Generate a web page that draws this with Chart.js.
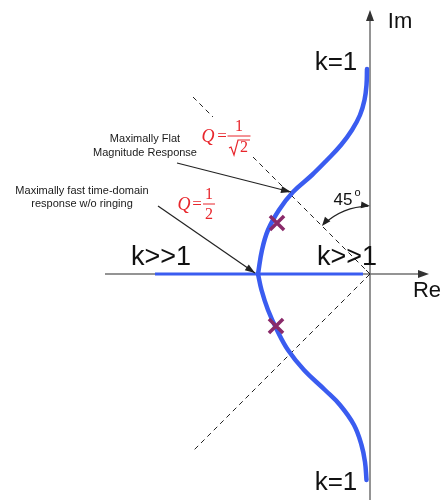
<!DOCTYPE html>
<html><head><meta charset="utf-8">
<script src="https://cdn.jsdelivr.net/npm/chart.js@4/dist/chart.umd.min.js"></script>
<style>html,body{margin:0;padding:0;background:#fff}#wrap{width:444px;height:500px;position:relative}</style>
</head><body><div id="wrap"><canvas id="c"></canvas></div>
<script>
// Root locus (Re, Im)
const upperRe = [-0.03,-0.035,-0.055,-0.10,-0.18,-0.29,-0.43,-0.58,-0.77,-0.91,-1.02,-1.08,-1.12];
const upperIm = [2.05,1.89,1.74,1.59,1.44,1.29,1.14,0.99,0.82,0.64,0.44,0.24,0.00];
const lowerRe = [-1.12,-1.085,-1.02,-0.93,-0.82,-0.66,-0.45,-0.30,-0.16,-0.085,-0.05,-0.035];
const lowerIm = [0.00,-0.16,-0.36,-0.56,-0.76,-0.96,-1.16,-1.31,-1.51,-1.71,-1.88,-2.06];
const realRe = [-2.15,-0.07];
const realIm = [0,0];
const poleRe = [-0.93,-0.94];
const poleIm = [0.51,-0.52];
// 45-degree (Q = 1/sqrt2) guide lines
const guideUpRe1 = [-1.77,-1.57];
const guideUpIm1 = [1.77,1.57];
const guideUpRe2 = [-1.17,0];
const guideUpIm2 = [1.17,0];
const guideLoRe = [0,-1.76];
const guideLoIm = [0,-1.76];

const pts = (xs, ys) => xs.map((v, i) => ({x: v, y: ys[i]}));
const BLUE = '#3a5cf0';
const AXIS = '#707070';

function arrowHead(ctx, x1, y1, x2, y2, len, w, color) {
  const a = Math.atan2(y2 - y1, x2 - x1);
  const c = Math.cos(a), s = Math.sin(a);
  ctx.save();
  ctx.fillStyle = color;
  ctx.beginPath();
  ctx.moveTo(x2, y2);
  ctx.lineTo(x2 - len * c + w * s, y2 - len * s - w * c);
  ctx.lineTo(x2 - len * c - w * s, y2 - len * s + w * c);
  ctx.closePath();
  ctx.fill();
  ctx.restore();
}

const decor = {
  id: 'decor',
  beforeDatasetsDraw(chart) {
    const {ctx, scales: {x, y}} = chart;
    const X = v => x.getPixelForValue(v), Y = v => y.getPixelForValue(v);
    ctx.save();
    ctx.strokeStyle = AXIS; ctx.lineWidth = 1.5;
    // Re axis
    ctx.beginPath(); ctx.moveTo(X(-2.65), Y(0)); ctx.lineTo(X(0.55), Y(0)); ctx.stroke();
    arrowHead(ctx, X(0), Y(0), X(0.59), Y(0), 11, 4, '#333');
    // Im axis
    ctx.beginPath(); ctx.moveTo(X(0), Y(-2.3)); ctx.lineTo(X(0), Y(2.58)); ctx.stroke();
    arrowHead(ctx, X(0), Y(0), X(0), Y(2.64), 11, 4, '#333');
    ctx.restore();
  },
  afterDatasetsDraw(chart) {
    const {ctx, scales: {x, y}} = chart;
    const X = v => x.getPixelForValue(v), Y = v => y.getPixelForValue(v);
    ctx.save();
    // small chevron at origin
    ctx.strokeStyle = '#222'; ctx.lineWidth = 1;
    ctx.beginPath(); ctx.moveTo(X(0) - 4, Y(0) - 4); ctx.lineTo(X(0), Y(0)); ctx.lineTo(X(0) - 4, Y(0) + 4); ctx.stroke();

    // big labels
    ctx.fillStyle = '#111';
    ctx.textBaseline = 'alphabetic';
    ctx.textAlign = 'center';
    ctx.font = '26px "Liberation Sans", Arial, sans-serif';
    ctx.fillText('k=1', X(-0.34), Y(2.04));
    ctx.fillText('k=1', X(-0.34), Y(-2.16));
    ctx.font = '27px "Liberation Sans", Arial, sans-serif';
    ctx.fillText('k>>1', X(-2.09), Y(0.09));
    ctx.fillText('k>>1', X(-0.23), Y(0.09));
    ctx.font = '22px "Liberation Sans", Arial, sans-serif';
    ctx.fillText('Im', X(0.30), Y(2.46));
    ctx.fillText('Re', X(0.57), Y(-0.23));

    // small annotation texts
    ctx.fillStyle = '#1a1a1a';
    ctx.textBaseline = 'middle';
    ctx.font = '11px "Liberation Sans", Arial, sans-serif';
    ctx.fillText('Maximally Flat', X(-2.25), Y(1.35));
    ctx.fillText('Magnitude Response', X(-2.25), Y(1.21));
    ctx.fillText('Maximally fast time-domain', X(-2.88), Y(0.83));
    ctx.fillText('response w/o ringing', X(-2.88), Y(0.70));

    // annotation arrows
    ctx.strokeStyle = '#222'; ctx.lineWidth = 1.2;
    const a1 = [X(-1.93), Y(1.11), X(-0.79), Y(0.82)];
    ctx.beginPath(); ctx.moveTo(a1[0], a1[1]); ctx.lineTo(a1[2], a1[3]); ctx.stroke();
    arrowHead(ctx, a1[0], a1[1], a1[2], a1[3], 10, 3.5, '#222');
    const a2 = [X(-2.12), Y(0.68), X(-1.15), Y(0.01)];
    ctx.beginPath(); ctx.moveTo(a2[0], a2[1]); ctx.lineTo(a2[2], a2[3]); ctx.stroke();
    arrowHead(ctx, a2[0], a2[1], a2[2], a2[3], 10, 3.5, '#222');

    // 45 degree arc
    const ox = X(0), oy = Y(0), r = X(0.68) - X(0);
    ctx.beginPath(); ctx.arc(ox, oy, r, -3 * Math.PI / 4 + 0.05, -Math.PI / 2 - 0.03); ctx.stroke();
    const t1 = -Math.PI / 2;
    arrowHead(ctx, ox + r * Math.cos(t1) - 8, oy + r * Math.sin(t1) - 1, ox + r * Math.cos(t1), oy + r * Math.sin(t1), 9, 3.5, '#222');
    const t2 = -3 * Math.PI / 4;
    arrowHead(ctx, ox + r * Math.cos(t2) + 5, oy + r * Math.sin(t2) - 6, ox + r * Math.cos(t2), oy + r * Math.sin(t2), 9, 3.5, '#222');
    ctx.fillStyle = '#111';
    ctx.font = '17px "Liberation Sans", Arial, sans-serif';
    ctx.textBaseline = 'alphabetic';
    ctx.fillText('45', X(-0.27), Y(0.69));
    ctx.font = '11px "Liberation Sans", Arial, sans-serif';
    ctx.fillText('o', X(-0.125), Y(0.78));

    // Q labels (red, serif)
    const RED = '#e8262c';
    function qLabel(bx, by, barW, eqOff, qOff, radical) {
      ctx.fillStyle = RED; ctx.strokeStyle = RED;
      ctx.textAlign = 'center'; ctx.textBaseline = 'middle';
      ctx.font = 'italic 18px "Liberation Serif", "Times New Roman", serif';
      ctx.fillText('Q', bx + qOff, by + 1);
      ctx.font = '17px "Liberation Serif", "Times New Roman", serif';
      ctx.fillText('=', bx + eqOff, by + 1);
      ctx.lineWidth = 1;
      ctx.beginPath(); ctx.moveTo(bx - barW / 2, by); ctx.lineTo(bx + barW / 2, by); ctx.stroke();
      ctx.font = '16px "Liberation Serif", "Times New Roman", serif';
      ctx.fillText('1', bx, by - 9);
      if (radical) {
        ctx.lineWidth = 1.2;
        ctx.beginPath();
        ctx.moveTo(bx - 10, by + 12); ctx.lineTo(bx - 8, by + 11);
        ctx.lineTo(bx - 5, by + 19); ctx.lineTo(bx - 1, by + 4); ctx.lineTo(bx + 11, by + 4);
        ctx.stroke();
        ctx.fillText('2', bx + 5, by + 12);
      } else {
        ctx.fillText('2', bx, by + 11);
      }
    }
    qLabel(X(-1.31), Y(1.38), 23, -17, -31, true);
    qLabel(X(-1.61), Y(0.70), 12, -12, -25, false);
    ctx.restore();
  }
};

new Chart(document.getElementById('c'), {
  type: 'scatter',
  data: {
    datasets: [
      {data: pts(poleRe, poleIm), pointStyle: 'crossRot', pointRadius: 10, borderWidth: 3.5,
       borderColor: '#8a2a6a', backgroundColor: '#8a2a6a', showLine: false, order: 0},
      {data: pts(upperRe, upperIm), showLine: true, borderColor: BLUE, borderWidth: 4.5, pointRadius: 0,
       tension: 0.4, borderCapStyle: 'round', order: 1},
      {data: pts(lowerRe, lowerIm), showLine: true, borderColor: BLUE, borderWidth: 4.5, pointRadius: 0,
       tension: 0.4, borderCapStyle: 'round', order: 1},
      {data: pts(realRe, realIm), showLine: true, borderColor: BLUE, borderWidth: 3, pointRadius: 0, order: 2},
      {data: pts(guideUpRe1, guideUpIm1), showLine: true, borderColor: '#222', borderWidth: 1, borderDash: [5, 4], pointRadius: 0, order: 3},
      {data: pts(guideUpRe2, guideUpIm2), showLine: true, borderColor: '#222', borderWidth: 1, borderDash: [5, 4], pointRadius: 0, order: 3},
      {data: pts(guideLoRe, guideLoIm), showLine: true, borderColor: '#222', borderWidth: 1, borderDash: [5, 4], pointRadius: 0, order: 3}
    ]
  },
  options: {
    responsive: true, maintainAspectRatio: false, animation: false, events: [],
    layout: {padding: 0, autoPadding: false},
    plugins: {legend: {display: false}, tooltip: {enabled: false}},
    scales: {
      x: {type: 'linear', min: -3.70, max: 0.74, display: false},
      y: {type: 'linear', min: -2.26, max: 2.74, display: false}
    }
  },
  plugins: [decor]
});
</script>
</body></html>
